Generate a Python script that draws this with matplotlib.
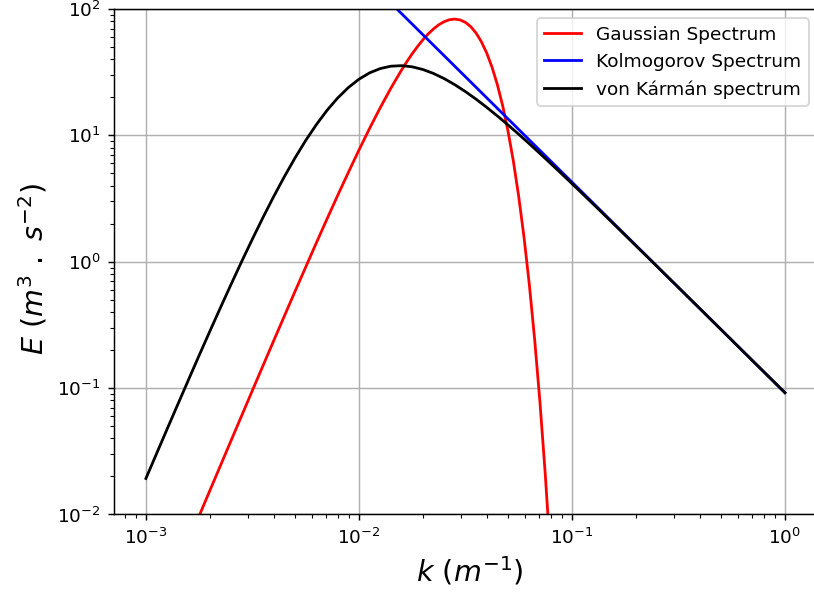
import matplotlib
matplotlib.use("Agg")
import matplotlib.pyplot as plt

# wavenumbers (1/m) and energy spectra E(k) (m^3/s^2)
k_gauss = [0.001259, 0.001585, 0.001995, 0.002512, 0.003162, 0.003981, 0.005012,
           0.00631, 0.007079, 0.007943, 0.008913, 0.01, 0.01122, 0.01259, 0.01413,
           0.01585, 0.01679, 0.01778, 0.01884, 0.01995, 0.02113, 0.02239, 0.02371,
           0.02512, 0.02661, 0.02818, 0.02985, 0.03162, 0.0335, 0.03548, 0.03758,
           0.03981, 0.04217, 0.04467, 0.04732, 0.05012, 0.05309, 0.05623, 0.05957,
           0.0631, 0.06683, 0.07079, 0.07499, 0.07943, 0.08414, 0.08913]
E_gauss = [0.00246, 0.006163, 0.01543, 0.03853, 0.09587, 0.2373, 0.5822,
           1.409, 2.176, 3.337, 5.075, 7.634, 11.34, 16.54, 23.63,
           32.87, 38.29, 44.19, 50.46, 56.93, 63.39, 69.53, 74.99,
           79.36, 82.22, 83.2, 81.96, 78.38, 72.47, 64.54, 55.06,
           44.82, 34.60, 25.16, 17.12, 10.80, 6.259, 3.302, 1.566,
           0.6597, 0.2430, 0.07705, 0.02066, 0.004586, 8.23e-4, 1.166e-4]

k_kolmo = [0.001, 0.01, 0.1, 1.0]
E_kolmo = [9200.0, 198.2, 4.27, 0.092]

k_karman = [0.001, 0.001122, 0.001259, 0.001413, 0.001585, 0.001778, 0.001995,
            0.002239, 0.002512, 0.002818, 0.003162, 0.003548, 0.003981, 0.004467,
            0.005012, 0.005623, 0.00631, 0.007079, 0.007943, 0.008913, 0.01,
            0.01122, 0.01259, 0.01413, 0.01585, 0.01778, 0.01995, 0.02239,
            0.02512, 0.02818, 0.03162, 0.03548, 0.03981, 0.04467, 0.05012,
            0.05623, 0.0631, 0.07079, 0.07943, 0.08913, 0.1, 0.1334, 0.1778,
            0.2371, 0.3162, 0.4217, 0.5623, 0.7499, 1.0]
E_karman = [0.01927, 0.03031, 0.04763, 0.07460, 0.1165, 0.1815, 0.2812,
            0.4334, 0.6636, 1.007, 1.512, 2.245, 3.282, 4.713,
            6.627, 9.100, 12.15, 15.75, 19.73, 23.86, 27.81,
            31.22, 33.77, 35.26, 35.60, 34.87, 33.21, 30.90,
            28.14, 25.18, 22.20, 19.34, 16.66, 14.24, 12.09,
            10.21, 8.579, 7.180, 5.993, 4.994, 4.152, 2.602, 1.622,
            1.008, 0.6252, 0.3874, 0.2399, 0.1485, 0.09197]

dpi = 133
fig = plt.figure(figsize=(814 / dpi, 599 / dpi), dpi=dpi)
# axes run a little past the right edge of the canvas
ax = fig.add_axes([0.1400, 0.1411, 0.8747, 0.8439])

ax.loglog(k_gauss, E_gauss, color='red', label='Gaussian Spectrum')
ax.loglog(k_kolmo, E_kolmo, color='blue', label='Kolmogorov Spectrum')
ax.loglog(k_karman, E_karman, color='black', label='von Kármán spectrum')

ax.set_xlim(10 ** -3.15, 10 ** 0.1927)
ax.set_ylim(1e-2, 1e2)
ax.grid(True)
ax.set_xlabel(r'$k\ (m^{-1})$', fontsize=15.5)
ax.set_ylabel(r'$E\ (m^3\ .\ s^{-2})$', fontsize=15.5)
ax.yaxis.set_label_coords(-0.0904, 0.4847)
ax.legend(loc='upper right', bbox_to_anchor=(0.9885, 1.0))

fig.savefig('out.png', dpi=dpi)
